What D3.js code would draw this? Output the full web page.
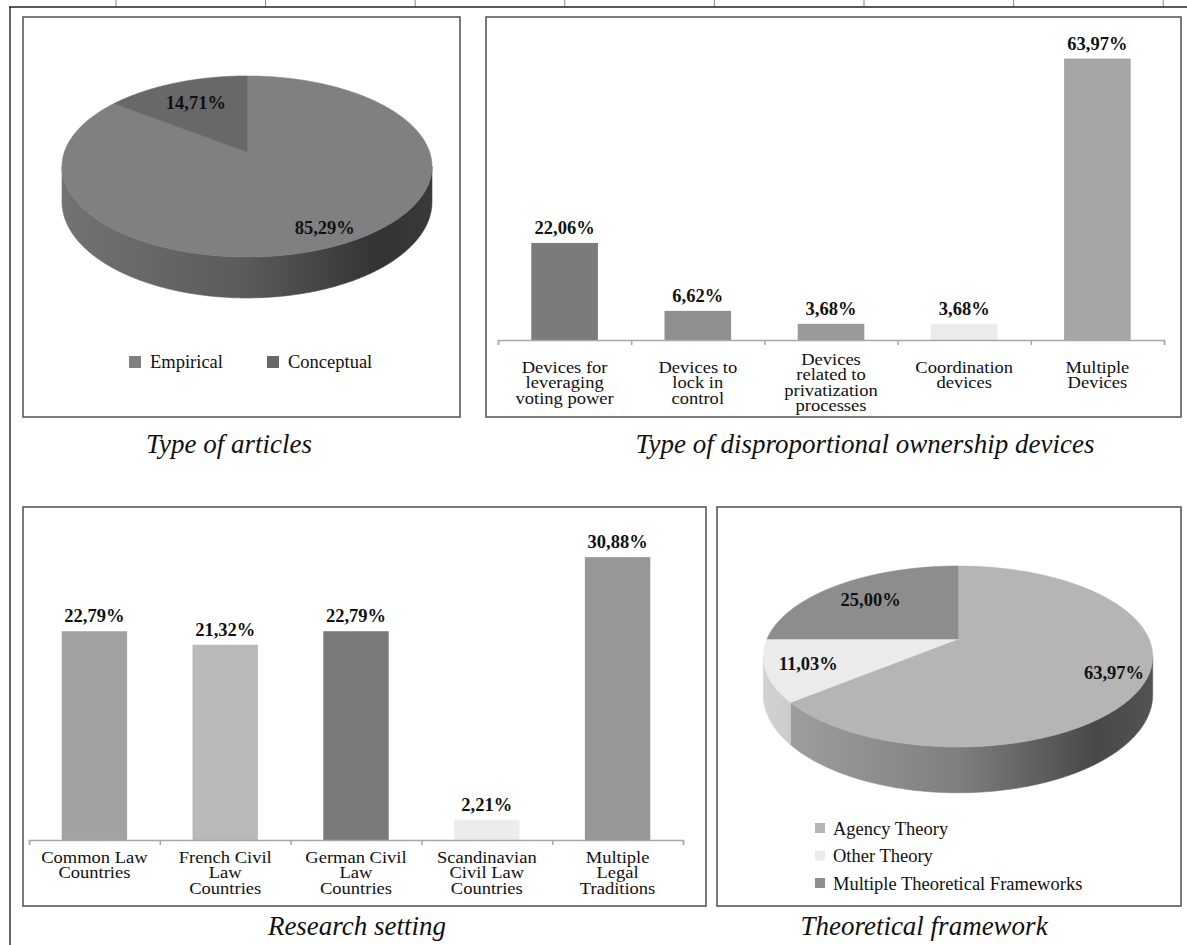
<!DOCTYPE html>
<html>
<head>
<meta charset="utf-8">
<script src="https://cdn.jsdelivr.net/npm/d3@7"></script>
<style>
  html, body { margin: 0; padding: 0; background: #fff; }
  svg { display: block; font-family: "Liberation Serif", "Times New Roman", serif; }
</style>
</head>
<body>
<svg id="fig" width="1187" height="945"></svg>
<script>
// ---- Type of articles ----
const articleTypes = ["Empirical", "Conceptual"];
const articleShares = [85.29, 14.71];

// ---- Type of disproportional ownership devices ----
const deviceCategories = [
  "Devices for\nleveraging\nvoting power",
  "Devices to\nlock in\ncontrol",
  "Devices\nrelated to\nprivatization\nprocesses",
  "Coordination\ndevices",
  "Multiple\nDevices"
];
const deviceShares = [22.06, 6.62, 3.68, 3.68, 63.97];

// ---- Research setting ----
const legalCategories = [
  "Common Law\nCountries",
  "French Civil\nLaw\nCountries",
  "German Civil\nLaw\nCountries",
  "Scandinavian\nCivil Law\nCountries",
  "Multiple\nLegal\nTraditions"
];
const legalShares = [22.79, 21.32, 22.79, 2.21, 30.88];

// ---- Theoretical framework ----
const theoryTypes = ["Agency Theory", "Other Theory", "Multiple Theoretical Frameworks"];
const theoryShares = [63.97, 11.03, 25.00];

const panelTitles = [
  "Type of articles",
  "Type of disproportional ownership devices",
  "Research setting",
  "Theoretical framework"
];

// grey palettes
const articleColors = ["#808080", "#686868"];
const deviceColors = ["#7b7b7b", "#8f8f8f", "#9a9a9a", "#ebebeb", "#a6a6a6"];
const legalColors = ["#a2a2a2", "#b9b9b9", "#7a7a7a", "#ececec", "#979797"];
const theoryColors = ["#b5b5b5", "#ebebeb", "#8d8d8d"];

const pct = v => d3.format(".2f")(v).replace(".", ",") + "%";
const svg = d3.select("#fig");
svg.append("rect").attr("width", 1187).attr("height", 945).attr("fill", "#fff");

// ---- outer table rules ----
const frame = svg.append("g");
frame.selectAll("line.stub").data(d3.range(8)).join("line")
  .attr("x1", i => 116 + i * 149.6).attr("x2", i => 116 + i * 149.6)
  .attr("y1", 0).attr("y2", 7).attr("stroke", "#888").attr("stroke-width", 1);
frame.append("line").attr("x1", 9).attr("x2", 1187).attr("y1", 7).attr("y2", 7)
  .attr("stroke", "#222").attr("stroke-width", 1.4);
frame.append("line").attr("x1", 10).attr("x2", 10).attr("y1", 7).attr("y2", 945)
  .attr("stroke", "#222").attr("stroke-width", 1.4);

// panel boxes
const boxes = [[23, 17, 460, 417], [486, 17, 1181, 417], [23, 507, 706, 906], [717, 507, 1181, 906]];
frame.selectAll("rect.box").data(boxes).join("rect")
  .attr("x", d => d[0]).attr("y", d => d[1])
  .attr("width", d => d[2] - d[0]).attr("height", d => d[3] - d[1])
  .attr("fill", "none").attr("stroke", "#5a5a5a").attr("stroke-width", 1.6);

// panel captions
const titlePos = [[229, 453], [865, 453], [357, 935], [924, 935]];
svg.selectAll("text.caption").data(panelTitles).join("text")
  .attr("x", (d, i) => titlePos[i][0]).attr("y", (d, i) => titlePos[i][1])
  .attr("text-anchor", "middle").attr("font-style", "italic")
  .attr("font-size", 27).attr("fill", "#111").text(d => d);

// ---- 3D pie ----
function pie3d(o) {
  const g = svg.append("g");
  const arcs = d3.pie().sort(null).value(d => d)(o.values);
  const proj = (a, f) => {
    const u = Math.sin(a), v = -Math.cos(a);
    const s = 1 / (1 - o.k * f * v);
    return [o.cx + o.rx * f * u * s, o.cy + o.ry * f * v * s];
  };
  const sAt = a => 1 / (1 - o.k * (-Math.cos(a)));
  const aR = Math.acos(-o.k), aL = 2 * Math.PI - aR;
  const sample = (a0, a1) => {
    const n = Math.max(2, Math.ceil(Math.abs(a1 - a0) / (Math.PI / 360)));
    return d3.range(n + 1).map(i => a0 + (a1 - a0) * i / n);
  };
  const line = pts => "M" + pts.map(p => p[0].toFixed(2) + "," + p[1].toFixed(2)).join("L") + "Z";

  const defs = g.append("defs");
  arcs.forEach((d, i) => {
    const base = d3.color(o.colors[i]);
    const gr = defs.append("linearGradient").attr("id", o.id + "w" + i)
      .attr("gradientUnits", "userSpaceOnUse")
      .attr("x1", o.cx - o.rx * 1.03).attr("x2", o.cx + o.rx * 1.03)
      .attr("y1", 0).attr("y2", 0);
    [[0, 0.3], [0.5, 1.0], [0.85, 2.6], [1, 2.2]].forEach(([off, dk]) =>
      gr.append("stop").attr("offset", off).attr("stop-color", base.darker(dk).formatHex()));
  });

  // outer side walls (front half only)
  arcs.forEach((d, i) => {
    const a0 = Math.max(d.startAngle, aR), a1 = Math.min(d.endAngle, aL);
    if (a1 <= a0) return;
    const angs = sample(a0, a1);
    const top = angs.map(a => proj(a, 1));
    const bot = angs.slice().reverse().map(a => { const p = proj(a, 1); return [p[0], p[1] + o.depth * sAt(a)]; });
    g.append("path").attr("d", line(top.concat(bot)))
      .attr("fill", `url(#${o.id}w${i})`)
      .attr("stroke", `url(#${o.id}w${i})`).attr("stroke-width", 0.6);
  });

  // top faces
  arcs.forEach((d, i) => {
    const pts = [proj(0, 0)].concat(sample(d.startAngle, d.endAngle).map(a => proj(a, 1)));
    g.append("path").attr("d", line(pts))
      .attr("fill", o.colors[i]).attr("stroke", o.colors[i]).attr("stroke-width", 0.6);
  });

  // value labels
  arcs.forEach((d, i) => {
    const p = proj((d.startAngle + d.endAngle) / 2, o.labelR[i]);
    g.append("text").attr("x", p[0]).attr("y", p[1]).attr("dy", "0.35em")
      .attr("text-anchor", "middle").attr("font-weight", "bold").attr("font-size", 18.5)
      .attr("fill", "#111").text(pct(o.values[i]));
  });
}

pie3d({ id: "art", values: articleShares, colors: articleColors,
  cx: 247, cy: 152, rx: 182.6, ry: 88.2, k: 0.16, depth: 34.4, labelR: [0.84, 0.69] });

pie3d({ id: "thy", values: theoryShares, colors: theoryColors,
  cx: 958, cy: 639, rx: 191, ry: 87.1, k: 0.193, depth: 37, labelR: [0.84, 0.79, 0.71] });

// legend: articles (one row)
const artLegend = svg.append("g").selectAll("g").data(articleTypes).join("g")
  .attr("transform", (d, i) => `translate(${[129, 267][i]},356)`);
artLegend.append("rect").attr("width", 12).attr("height", 12).attr("fill", (d, i) => articleColors[i]);
artLegend.append("text").attr("x", 21).attr("y", 11.5).attr("font-size", 18.5).attr("fill", "#111").text(d => d);

// legend: theories (one column)
const thyLegend = svg.append("g").selectAll("g").data(theoryTypes).join("g")
  .attr("transform", (d, i) => `translate(815,${823 + i * 27.5})`);
thyLegend.append("rect").attr("width", 10).attr("height", 10).attr("fill", (d, i) => theoryColors[i]);
thyLegend.append("text").attr("x", 18).attr("y", 11.5).attr("font-size", 18.5).attr("fill", "#111").text(d => d);

// ---- column charts ----
function columns(o) {
  const g = svg.append("g");
  const x = d3.scaleBand().domain(o.cats).range([o.x0, o.x1]).padding(0);
  const y = d3.scaleLinear().domain([0, o.yMax]).range([o.baseY, o.topY]);
  const bw = x.bandwidth() * 0.5;

  g.selectAll("rect").data(o.values).join("rect")
    .attr("x", (d, i) => x(o.cats[i]) + (x.bandwidth() - bw) / 2)
    .attr("y", d => y(d)).attr("width", bw).attr("height", d => y(0) - y(d))
    .attr("fill", (d, i) => o.colors[i]);

  const idx = d3.scaleLinear().domain([0, o.cats.length]).range([o.x0, o.x1]);
  g.append("g").attr("transform", `translate(0,${o.baseY})`)
    .call(d3.axisBottom(idx).tickValues(d3.range(o.cats.length + 1)).tickSize(5).tickFormat(""))
    .call(a => a.selectAll("path,line").attr("stroke", "#a8a8a8").attr("stroke-width", 1.5));

  g.selectAll("text.val").data(o.values).join("text")
    .attr("x", (d, i) => x(o.cats[i]) + x.bandwidth() / 2)
    .attr("y", d => y(d) - 9)
    .attr("text-anchor", "middle").attr("font-weight", "bold").attr("font-size", 18.5)
    .attr("fill", "#111").text(d => pct(d));

  // category labels: tight leading, slightly widened glyphs
  o.cats.forEach(c => {
    const lines = c.split("\n");
    const y0 = o.baseY + o.labelGap - Math.max(0, lines.length - 3) * 8;
    const t = g.append("text")
      .attr("transform", `translate(${x(c) + x.bandwidth() / 2},0) scale(1.09,1)`)
      .attr("text-anchor", "middle").attr("font-size", 17).attr("fill", "#111");
    lines.forEach((ln, j) => t.append("tspan").attr("x", 0).attr("y", y0 + j * 15.5).text(ln));
  });
}

columns({ cats: deviceCategories, values: deviceShares, colors: deviceColors,
  x0: 498, x1: 1164, baseY: 340, topY: 32, yMax: 70, labelGap: 33 });

columns({ cats: legalCategories, values: legalShares, colors: legalColors,
  x0: 29, x1: 683, baseY: 840, topY: 519.4, yMax: 35, labelGap: 23 });
</script>
</body>
</html>
